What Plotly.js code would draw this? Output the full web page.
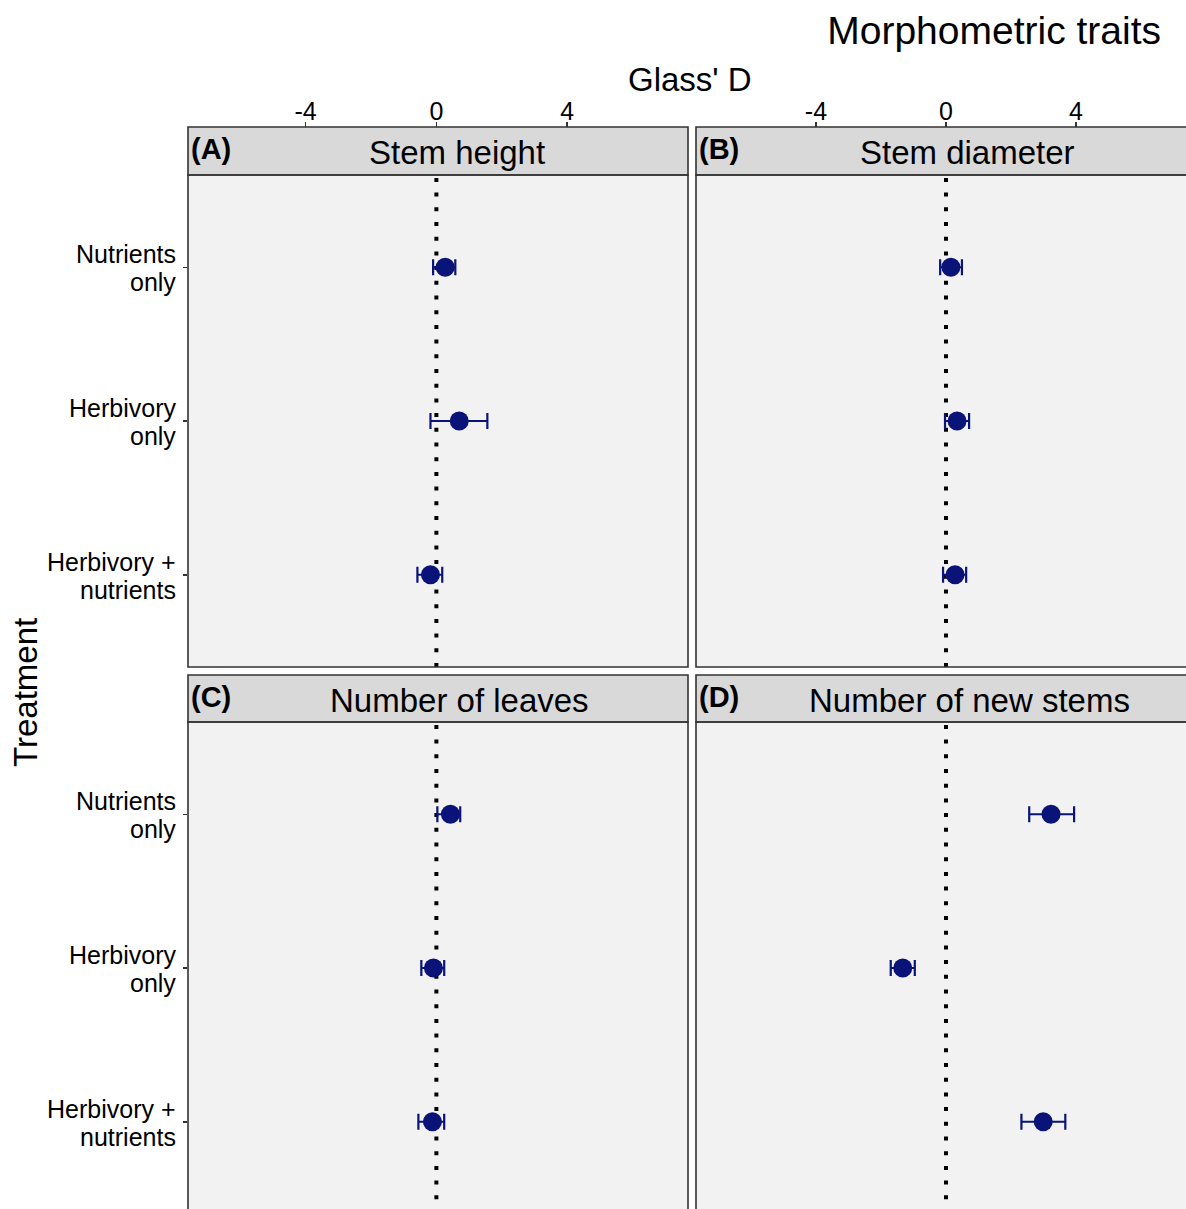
<!DOCTYPE html>
<html>
<head>
<meta charset="utf-8">
<script src="https://cdn.plot.ly/plotly-3.0.1.min.js"></script>
<style>
html, body { margin: 0; padding: 0; overflow: hidden; background: #ffffff; }
#chart { width: 1196px; height: 1214px; }
</style>
</head>
<body>
<div id="chart"></div>
<script>
// ---- data ----
const categories = ['Nutrients only', 'Herbivory only', 'Herbivory + nutrients'];
const tickLabels = ['Nutrients<br>only', 'Herbivory<br>only', 'Herbivory +<br>nutrients'];
const panelTitles = ['Stem height', 'Stem diameter', 'Number of leaves', 'Number of new stems'];
const panelTags = ['(A)', '(B)', '(C)', '(D)'];
const xTickVals = [-4, 0, 4];
const xTickText = ['-4', '0', '4'];

// Glass' D means and CI bounds, in category order
const stemHeightD  = [0.27, 0.70, -0.18];
const stemHeightLo = [-0.10, -0.18, -0.58];
const stemHeightHi = [0.58, 1.56, 0.18];

const stemDiamD  = [0.15, 0.34, 0.28];
const stemDiamLo = [-0.18, -0.03, -0.09];
const stemDiamHi = [0.49, 0.71, 0.62];

const leavesD  = [0.43, -0.09, -0.12];
const leavesLo = [0.03, -0.46, -0.55];
const leavesHi = [0.73, 0.24, 0.24];

const newStemsD  = [3.23, -1.33, 2.99];
const newStemsLo = [2.56, -1.70, 2.32];
const newStemsHi = [3.94, -0.96, 3.67];

// ---- layout geometry (px) ----
const W = 1196, H = 1214;
const colX = [[188, 688], [696, 1196]];
const colRange = [[-7.6, 7.7], [-7.69, 7.69]];
const rowStrip = [[127, 175], [675, 722]];
const rowPlot = [[175, 667], [722, 1214]];
const px = v => v / W;
const py = v => 1 - v / H;

const navy = '#0a1478';
const fontFam = '"Liberation Sans", Arial, sans-serif';
const series = [
  [stemHeightD, stemHeightLo, stemHeightHi],
  [stemDiamD, stemDiamLo, stemDiamHi],
  [leavesD, leavesLo, leavesHi],
  [newStemsD, newStemsLo, newStemsHi]
];

const traces = [];
const layout = {
  width: W, height: H,
  margin: {l: 0, r: 0, t: 0, b: 0},
  paper_bgcolor: '#ffffff',
  plot_bgcolor: '#f2f2f2',
  showlegend: false,
  font: {family: fontFam, color: '#000000'},
  title: {
    text: 'Morphometric traits',
    x: 1161 / W, xanchor: 'right', xref: 'paper',
    y: py(30), yanchor: 'middle', yref: 'paper',
    font: {size: 39, family: fontFam, color: '#000'}
  },
  shapes: [],
  annotations: [
    {text: "Glass' D", x: px(690), y: py(79), xref: 'paper', yref: 'paper',
     showarrow: false, xanchor: 'center', yanchor: 'middle', font: {size: 33, family: fontFam}},
    {text: 'Treatment', x: px(25), y: py(693), xref: 'paper', yref: 'paper', textangle: -90,
     showarrow: false, xanchor: 'center', yanchor: 'middle', font: {size: 33, family: fontFam}}
  ]
};

const stripCenters = [457, 967, 459, 969];

for (let i = 0; i < 4; i++) {
  const r = Math.floor(i / 2), c = i % 2;
  const n = i === 0 ? '' : String(i + 1);
  const xa = 'xaxis' + n, ya = 'yaxis' + n;
  const [d, lo, hi] = series[i];
  traces.push({
    type: 'scatter', mode: 'markers',
    x: d, y: categories,
    xaxis: 'x' + n, yaxis: 'y' + n,
    marker: {color: navy, size: 19, symbol: 'circle'},
    error_x: {
      type: 'data', symmetric: false,
      array: d.map((v, k) => hi[k] - v),
      arrayminus: d.map((v, k) => v - lo[k]),
      color: navy, thickness: 2.2, width: 8
    },
    hoverinfo: 'x+y'
  });
  layout[xa] = {
    domain: [px(colX[c][0]), px(colX[c][1])],
    range: colRange[c],
    anchor: 'free',
    position: r === 0 ? py(rowStrip[0][0]) : py(rowPlot[1][1]),
    side: 'top',
    showgrid: false, zeroline: false, showline: false,
    tickvals: xTickVals, ticktext: xTickText,
    ticks: r === 0 ? 'outside' : '',
    ticklen: 5, tickwidth: 1.5, tickcolor: '#333333',
    showticklabels: r === 0,
    ticklabelstandoff: -8,
    tickfont: {size: 25, family: fontFam, color: '#000'},
    fixedrange: true
  };
  layout[ya] = {
    domain: [py(rowPlot[r][1]), py(rowPlot[r][0])],
    anchor: 'x' + n,
    type: 'category',
    categoryorder: 'array', categoryarray: categories,
    range: [2.6, -0.6],
    showgrid: false, zeroline: false, showline: false,
    ticks: c === 0 ? 'outside' : '',
    ticklen: 4, tickwidth: 1.5, tickcolor: '#333333',
    showticklabels: false,
    fixedrange: true
  };
  // y tick labels (two lines, tighter spacing like the reference)
  if (c === 0) {
    categories.forEach((cat, k) => {
      const lines = tickLabels[k].split('<br>');
      lines.forEach((ln, j) => {
        layout.annotations.push({
          text: ln, xref: 'paper', yref: 'y' + n,
          x: px(178), y: cat, yshift: j === 0 ? 13 : -15,
          xanchor: 'right', yanchor: 'middle', showarrow: false,
          font: {size: 25, family: fontFam, color: '#000'}
        });
      });
    });
  }
  // dotted zero line
  layout.shapes.push({
    type: 'line', xref: 'x' + n, yref: 'y' + n + ' domain',
    x0: 0, x1: 0, y0: 0, y1: 1,
    line: {color: '#000000', width: 4, dash: '4px,10.7px'},
    layer: 'below'
  });
  // panel border
  layout.shapes.push({
    type: 'rect', xref: 'paper', yref: 'paper',
    x0: px(colX[c][0]), x1: px(colX[c][1]),
    y0: py(rowPlot[r][1]), y1: py(rowPlot[r][0]),
    line: {color: '#333333', width: 1.6}, fillcolor: 'rgba(0,0,0,0)', layer: 'above'
  });
  // strip
  layout.shapes.push({
    type: 'rect', xref: 'paper', yref: 'paper',
    x0: px(colX[c][0]), x1: px(colX[c][1]),
    y0: py(rowStrip[r][1]), y1: py(rowStrip[r][0]),
    line: {color: '#333333', width: 1.6}, fillcolor: '#d9d9d9', layer: 'below'
  });
  layout.annotations.push({
    text: panelTitles[i], xref: 'paper', yref: 'paper',
    x: px(stripCenters[i]), y: py((rowStrip[r][0] + rowStrip[r][1]) / 2 + 2),
    xanchor: 'center', yanchor: 'middle', showarrow: false,
    font: {size: 33, family: fontFam, color: '#000'}
  });
  layout.annotations.push({
    text: '<b>' + panelTags[i] + '</b>', xref: 'paper', yref: 'paper',
    x: px(colX[c][0] + 1), y: py((rowStrip[r][0] + rowStrip[r][1]) / 2 - 2),
    xanchor: 'left', yanchor: 'middle', showarrow: false,
    font: {size: 29, family: fontFam, color: '#000'}
  });
}

Plotly.newPlot('chart', traces, layout, {displayModeBar: false, staticPlot: true});
</script>
</body>
</html>
